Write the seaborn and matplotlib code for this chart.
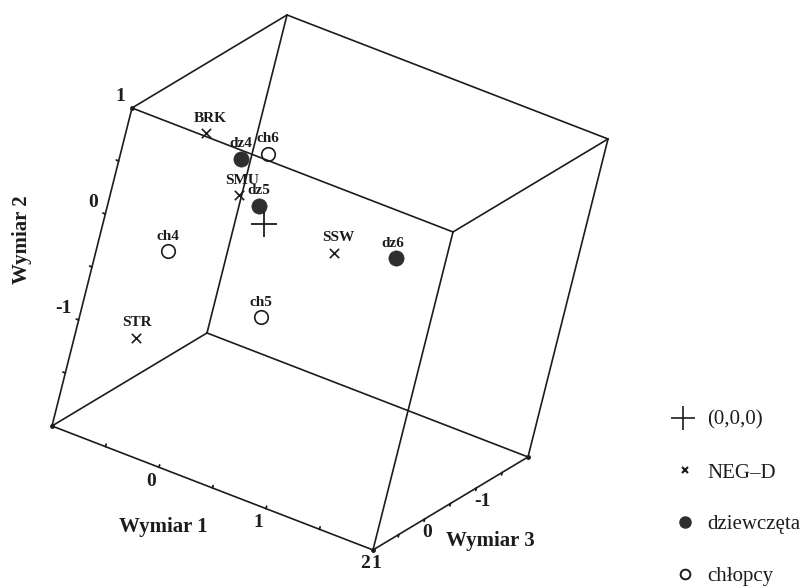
import matplotlib
matplotlib.use('Agg')
import matplotlib.pyplot as plt
import numpy as np
import pandas as pd
import seaborn as sns

# MDS solution, 3 dimensions
labels = ['BRK', 'SMU', 'STR', 'SSW', 'dz4', 'dz5', 'dz6', 'ch4', 'ch5', 'ch6']
groups = ['NEG-D'] * 4 + ['dziewczęta'] * 3 + ['chłopcy'] * 3
wymiar1 = [-0.58, -0.35, -0.77, 0.47, -0.19, -0.01, 1.42, -0.57, -0.05, -0.23]
wymiar2 = [0.72, 0.08, -1.31, -0.23, 0.66, 0.23, 0.41, -0.33, -1.07, 0.49]
wymiar3 = [0.30, -0.20, 0.20, -0.50, 0.40, 0.20, 0.60, 0.50, -0.60, -0.30]

w1_range = [-1, 2]
w2_range = [-2, 1]
w3_range = [-2, 1]
w1_ticks = [0, 1, 2]
w2_ticks = [-1, 0, 1]
w3_ticks = [-1, 0, 1]

# oblique projection of the box onto the page (pixels)
ORIGIN = np.array([264.0, 224.3])
VA = np.array([107.0, 41.33])   # +1 on Wymiar 1
VB = np.array([26.67, -106.0])  # +1 on Wymiar 2
VC = np.array([-51.67, 31.0])   # +1 on Wymiar 3


def proj(w1, w2, w3):
    p = ORIGIN + np.outer(w1, VA) + np.outer(w2, VB) + np.outer(w3, VC)
    return p[:, 0], p[:, 1]


df = pd.DataFrame({'label': labels, 'grupa': groups,
                   'w1': wymiar1, 'w2': wymiar2, 'w3': wymiar3})
df['x'], df['y'] = proj(df['w1'], df['w2'], df['w3'])

sns.set_theme(style='white')
plt.rcParams['font.family'] = ['Liberation Serif', 'DejaVu Serif']

fig = plt.figure(figsize=(8.07, 5.88), dpi=100)
ax = fig.add_axes([0, 0, 1, 1])
ax.set_xlim(0, 807)
ax.set_ylim(588, 0)
ax.axis('off')

ink = '#1c1c1c'

# box edges
corners = [(a, b, c) for a in w1_range for b in w2_range for c in w3_range]
for i, p in enumerate(corners):
    for q in corners[i + 1:]:
        if sum(pi != qi for pi, qi in zip(p, q)) == 1:
            xs, ys = proj([p[0], q[0]], [p[1], q[1]], [p[2], q[2]])
            ax.plot(xs, ys, color=ink, lw=1.2, solid_capstyle='round')

# axis end dots
ex, ey = proj([-1, -1, 2, 2], [1, -2, -2, -2], [1, 1, 1, -2])
ax.plot(ex, ey, 'o', color=ink, ms=2.5)


def draw_ticks(w1, w2, w3, direction):
    tx, ty = proj(w1, w2, w3)
    d = direction / np.linalg.norm(direction) * 2.5
    for x, y in zip(tx, ty):
        ax.plot([x, x + d[0]], [y, y + d[1]], color=ink, lw=1.3)


halves = np.arange(-1.5, 1.0, 0.5)
# Wymiar 1 (front bottom edge)
t1 = np.arange(-0.5, 2.0, 0.5)
draw_ticks(t1, np.full(len(t1), -2), np.full(len(t1), 1), VB)
# Wymiar 2 (front left edge)
draw_ticks(np.full(len(halves), -1), halves, np.full(len(halves), 1), -VA)
# Wymiar 3 (right bottom edge)
draw_ticks(np.full(len(halves), 2), np.full(len(halves), -2), halves, -VB)

tick_font = dict(fontsize=14, fontweight='bold', color=ink)
x1, y1 = proj(w1_ticks, [-2] * 3, [1] * 3)
for v, x, y in zip(w1_ticks, x1, y1):
    ax.text(x - 8, y + 14, str(v), ha='center', va='center', **tick_font)
x2, y2 = proj([-1] * 3, w2_ticks, [1] * 3)
for v, x, y in zip(w2_ticks, x2, y2):
    ax.text(x - 7, y - 11, str(v), ha='right', va='center', **tick_font)
x3, y3 = proj([2] * 3, [-2] * 3, w3_ticks)
for v, x, y in zip(w3_ticks, x3, y3):
    ax.text(x - 2, y + 14, str(v), ha='left', va='center', **tick_font)

title_font = dict(fontsize=15, fontweight='bold', color=ink)
ax.text(163, 527, 'Wymiar 1', ha='center', va='center', **title_font)
ax.text(22, 240, 'Wymiar 2', ha='center', va='center', rotation=90, **title_font)
ax.text(490, 541, 'Wymiar 3', ha='center', va='center', **title_font)

# points
neg = df[df['grupa'] == 'NEG-D']
dz = df[df['grupa'] == 'dziewczęta']
ch = df[df['grupa'] == 'chłopcy']
sns.scatterplot(data=neg, x='x', y='y', marker='x', s=45, color=ink,
                linewidth=1.2, ax=ax, legend=False)
sns.scatterplot(data=dz, x='x', y='y', marker='o', s=120, color='#2e2e2e',
                edgecolor='#2e2e2e', linewidth=0.5, ax=ax, legend=False)
sns.scatterplot(data=ch, x='x', y='y', marker='o', s=95, facecolor='white',
                edgecolor=ink, linewidth=1.2, ax=ax, legend=False)
ox, oy = proj([0], [0], [0])
ax.plot(ox, oy, marker='+', ms=19, mew=1.3, color=ink, ls='none')
ax.set_xlabel('')
ax.set_ylabel('')

nudge = {'BRK': 5, 'SMU': 3, 'SSW': 4, 'dz6': -3, 'STR': 1}
for _, r in df.iterrows():
    ax.text(r['x'] + nudge.get(r['label'], 0), r['y'] - 15, r['label'],
            ha='center', va='center', fontsize=11, fontweight='bold', color=ink)

# legend
leg_y = [420, 473, 525, 577]
leg_txt = ['(0,0,0)', 'NEG\u2013D', 'dziewczęta', 'chłopcy']
ax.plot(683, leg_y[0] - 2, marker='+', ms=17, mew=1.2, color=ink)
ax.plot(685, leg_y[1] - 3, marker='x', ms=5, mew=1.5, color=ink)
ax.plot(685, leg_y[2] - 3, marker='o', ms=8, color='#2e2e2e')
ax.plot(685, leg_y[3] - 3, marker='o', ms=7, mfc='white', mec=ink, mew=1.4)
for t, y in zip(leg_txt, leg_y):
    ax.text(707, y, t, ha='left', va='center', fontsize=15, color=ink)

fig.savefig('out.png', dpi=100, facecolor='white')
